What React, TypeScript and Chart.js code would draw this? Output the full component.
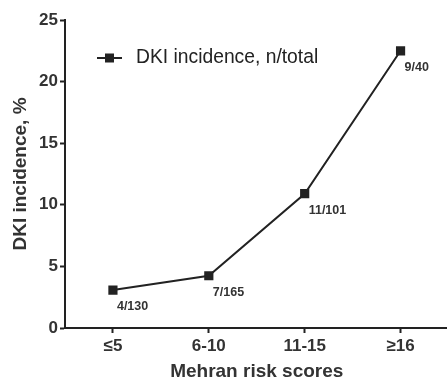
import React, { useEffect, useRef } from "react";
import { Chart, registerables } from "chart.js";

Chart.register(...registerables);

const categories = ["≤5", "6-10", "11-15", "≥16"];
const incidence = [3.08, 4.24, 10.9, 22.5];
const counts = ["4/130", "7/165", "11/101", "9/40"];
const yTicks = [0, 5, 10, 15, 20, 25];
const seriesName = "DKI incidence, n/total";

const FONT = "'Liberation Sans', Arial, sans-serif";
const INK = "#222";

const labelPlugin = {
  id: "pointLabels",
  afterDatasetsDraw(chart: any) {
    const ctx = chart.ctx;
    const meta = chart.getDatasetMeta(0);
    ctx.save();
    ctx.font = `bold 12.5px ${FONT}`;
    ctx.fillStyle = "#333";
    ctx.textAlign = "left";
    ctx.textBaseline = "middle";
    meta.data.forEach((pt: any, i: number) => {
      ctx.fillText(counts[i], pt.x + 4, pt.y + 16.5);
    });
    ctx.restore();
  },
};

const legendPlugin = {
  id: "customLegend",
  afterDraw(chart: any) {
    const ctx = chart.ctx;
    const area = chart.chartArea;
    const x0 = area.left + 32;
    const y0 = area.top + 38;
    ctx.save();
    ctx.strokeStyle = INK;
    ctx.lineWidth = 2;
    ctx.beginPath();
    ctx.moveTo(x0, y0);
    ctx.lineTo(x0 + 25, y0);
    ctx.stroke();
    ctx.fillStyle = INK;
    ctx.fillRect(x0 + 12.5 - 4.5, y0 - 4.5, 9, 9);
    ctx.font = `19.3px ${FONT}`;
    ctx.fillStyle = INK;
    ctx.textAlign = "left";
    ctx.textBaseline = "middle";
    ctx.fillText(seriesName, x0 + 39, y0);
    ctx.restore();
  },
};

export default function App() {
  const ref = useRef<HTMLCanvasElement>(null);
  useEffect(() => {
    const chart = new Chart(ref.current!, {
      type: "line",
      data: {
        labels: categories,
        datasets: [
          {
            label: seriesName,
            data: incidence,
            borderColor: INK,
            backgroundColor: INK,
            borderWidth: 2,
            pointStyle: "rect",
            pointRadius: 6.5,
            pointBackgroundColor: INK,
            pointBorderColor: INK,
            pointBorderWidth: 0,
            tension: 0,
          },
        ],
      },
      options: {
        animation: false,
        responsive: false,
        maintainAspectRatio: false,
        layout: { padding: { top: 20, right: 0, left: 0, bottom: 0 } },
        plugins: {
          legend: { display: false },
          tooltip: { enabled: false },
        },
        scales: {
          x: {
            type: "category",
            offset: true,
            grid: {
              display: true,
              drawOnChartArea: false,
              tickLength: 5,
              tickWidth: 2,
              tickColor: INK,
              offset: false,
            },
            border: { display: true, color: INK, width: 2 },
            ticks: {
              color: "#333",
              font: { family: FONT, size: 17, weight: "bold" },
              padding: 3,
              maxRotation: 0,
            },
            title: {
              display: true,
              text: "Mehran risk scores",
              color: "#333",
              font: { family: FONT, size: 19, weight: "bold", lineHeight: 1.0 },
              padding: { top: 0, bottom: 0 },
            },
            afterFit: (s: any) => {
              s.height = 53;
            },
          },
          y: {
            min: 0,
            max: 25,
            afterBuildTicks: (s: any) => {
              s.ticks = yTicks.map((v) => ({ value: v }));
            },
            grid: {
              display: true,
              drawOnChartArea: false,
              tickLength: 5,
              tickWidth: 2,
              tickColor: INK,
            },
            border: { display: true, color: INK, width: 2 },
            ticks: {
              color: "#333",
              font: { family: FONT, size: 17, weight: "bold" },
              padding: 2,
            },
            title: {
              display: true,
              text: "DKI incidence, %",
              color: "#333",
              font: { family: FONT, size: 19, weight: "bold", lineHeight: 1.2 },
              padding: { top: 9, bottom: 9 },
            },
            afterFit: (s: any) => {
              s.width = 65;
            },
          },
        },
      },
      plugins: [labelPlugin, legendPlugin],
    } as any);
    return () => chart.destroy();
  }, []);
  return (
    <div
      style={{
        position: "fixed",
        left: 0,
        top: 0,
        width: 447,
        height: 381,
        overflow: "hidden",
        background: "#fff",
      }}
    >
      <canvas ref={ref} width={455} height={381} style={{ display: "block" }} />
    </div>
  );
}
